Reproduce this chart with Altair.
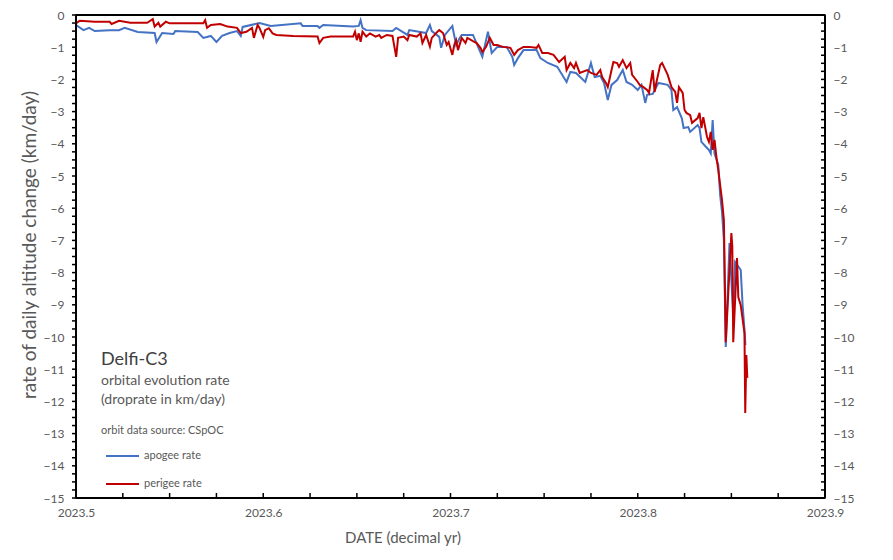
import altair as alt
import pandas as pd

# ---------------- data ----------------
apogee_x = [
    2023.500, 2023.504, 2023.507, 2023.510, 2023.518, 2023.523, 2023.526, 2023.533, 2023.542, 2023.543,
    2023.546, 2023.552, 2023.553, 2023.565, 2023.568, 2023.572, 2023.575, 2023.578, 2023.582, 2023.586,
    2023.588, 2023.589, 2023.598, 2023.604, 2023.620, 2023.621, 2023.629, 2023.630, 2023.632, 2023.648,
    2023.651, 2023.652, 2023.653, 2023.655, 2023.669, 2023.671, 2023.677, 2023.678, 2023.687, 2023.689,
    2023.690, 2023.694, 2023.695, 2023.697, 2023.701, 2023.703, 2023.705, 2023.706, 2023.712, 2023.717,
    2023.720, 2023.722, 2023.725, 2023.730, 2023.733, 2023.734, 2023.736, 2023.739, 2023.746, 2023.748,
    2023.752, 2023.757, 2023.762, 2023.764, 2023.767, 2023.772, 2023.775, 2023.777, 2023.780, 2023.782,
    2023.784, 2023.786, 2023.789, 2023.792, 2023.794, 2023.797, 2023.800, 2023.802, 2023.804, 2023.805,
    2023.808, 2023.811, 2023.816, 2023.818, 2023.819, 2023.821, 2023.8235, 2023.8245, 2023.827, 2023.828,
    2023.832, 2023.833, 2023.834, 2023.837, 2023.838, 2023.839, 2023.840, 2023.841, 2023.843, 2023.844,
    2023.845, 2023.846, 2023.847, 2023.849, 2023.851, 2023.852, 2023.855, 2023.856, 2023.857, 2023.8575,
]
apogee_rate = [
    -0.31, -0.47, -0.40, -0.50, -0.47, -0.47, -0.40, -0.53, -0.56, -0.84,
    -0.56, -0.59, -0.50, -0.53, -0.71, -0.65, -0.84, -0.65, -0.56, -0.50,
    -0.65, -0.37, -0.25, -0.34, -0.26, -0.34, -0.34, -0.40, -0.31, -0.36,
    -0.34, -0.16, -0.40, -0.47, -0.50, -0.40, -0.62, -0.47, -0.56, -0.31,
    -0.50, -0.68, -1.02, -0.62, -0.34, -0.93, -0.71, -0.62, -0.62, -1.30,
    -0.52, -1.18, -0.99, -0.99, -1.30, -1.55, -1.34, -1.09, -1.09, -1.34,
    -1.49, -1.61, -2.08, -1.77, -1.80, -2.08, -1.49, -1.93, -1.89, -2.11,
    -2.64, -2.17, -2.02, -1.71, -2.08, -2.17, -2.33, -2.17, -2.73, -2.48,
    -2.45, -2.11, -2.17, -2.33, -2.95, -2.86, -3.20, -3.51, -3.48, -3.63,
    -3.42, -3.51, -3.94, -4.13, -4.19, -4.30, -3.26, -4.30, -4.66, -5.59,
    -6.12, -6.99, -10.31, -7.08, -9.38, -7.67, -7.92, -9.01, -9.78, -10.25,
]

perigee_x = [
    2023.500, 2023.502, 2023.510, 2023.518, 2023.519, 2023.523, 2023.529, 2023.538, 2023.541, 2023.542,
    2023.544, 2023.545, 2023.548, 2023.550, 2023.568, 2023.569, 2023.570, 2023.572, 2023.577, 2023.581,
    2023.586, 2023.588, 2023.591, 2023.594, 2023.595, 2023.597, 2023.598, 2023.600, 2023.601, 2023.603,
    2023.605, 2023.607, 2023.616, 2023.629, 2023.630, 2023.632, 2023.636, 2023.648, 2023.649, 2023.650,
    2023.651, 2023.652, 2023.653, 2023.655, 2023.657, 2023.660, 2023.662, 2023.663, 2023.666, 2023.669,
    2023.671, 2023.672, 2023.675, 2023.677, 2023.678, 2023.682, 2023.684, 2023.685, 2023.687, 2023.689,
    2023.690, 2023.693, 2023.694, 2023.696, 2023.698, 2023.699, 2023.701, 2023.702, 2023.703, 2023.704,
    2023.706, 2023.708, 2023.709, 2023.712, 2023.714, 2023.716, 2023.717, 2023.719, 2023.721, 2023.723,
    2023.725, 2023.728, 2023.732, 2023.734, 2023.736, 2023.739, 2023.742, 2023.746, 2023.747, 2023.749,
    2023.752, 2023.755, 2023.758, 2023.761, 2023.762, 2023.764, 2023.766, 2023.767, 2023.769, 2023.773,
    2023.775, 2023.778, 2023.780, 2023.781, 2023.783, 2023.784, 2023.786, 2023.787, 2023.789, 2023.790,
    2023.792, 2023.794, 2023.796, 2023.797, 2023.800, 2023.801, 2023.803, 2023.805, 2023.806, 2023.808,
    2023.809, 2023.810, 2023.812, 2023.813, 2023.814, 2023.816, 2023.818, 2023.820, 2023.821, 2023.822,
    2023.824, 2023.825, 2023.826, 2023.828, 2023.829, 2023.832, 2023.833, 2023.834, 2023.835, 2023.837,
    2023.838, 2023.839, 2023.840, 2023.841, 2023.842, 2023.843, 2023.845, 2023.8455, 2023.846, 2023.847,
    2023.850, 2023.8505, 2023.851, 2023.853, 2023.8537, 2023.855, 2023.857, 2023.8574, 2023.858, 2023.8585,
]
perigee_rate = [
    -0.26, -0.18, -0.21, -0.21, -0.28, -0.18, -0.24, -0.24, -0.13, -0.36,
    -0.24, -0.36, -0.21, -0.26, -0.26, -0.16, -0.40, -0.31, -0.28, -0.36,
    -0.40, -0.56, -0.52, -0.40, -0.71, -0.31, -0.40, -0.68, -0.47, -0.41,
    -0.57, -0.62, -0.65, -0.67, -0.87, -0.71, -0.67, -0.67, -0.52, -0.78,
    -0.57, -0.83, -0.52, -0.67, -0.57, -0.67, -0.62, -0.71, -0.62, -0.65,
    -1.30, -0.71, -0.67, -0.78, -0.62, -0.67, -0.57, -0.87, -0.62, -0.98,
    -0.71, -0.52, -0.47, -0.56, -0.93, -0.84, -1.24, -0.93, -0.78, -1.09,
    -0.71, -0.87, -0.71, -0.81, -0.87, -1.02, -1.15, -0.99, -0.71, -0.93,
    -0.93, -0.99, -1.02, -1.24, -1.09, -0.99, -0.99, -1.02, -0.93, -1.18,
    -1.18, -1.24, -1.46, -1.30, -1.71, -1.49, -1.65, -1.49, -1.80, -1.71,
    -1.80, -1.86, -1.71, -1.93, -2.11, -2.24, -1.71, -1.46, -1.49, -1.61,
    -1.40, -1.65, -1.49, -1.86, -2.08, -2.17, -2.24, -2.33, -2.42, -1.71,
    -2.39, -2.08, -1.55, -1.49, -1.61, -1.86, -2.24, -2.39, -2.73, -2.24,
    -2.42, -2.95, -3.04, -3.11, -3.35, -3.20, -3.04, -3.51, -3.17, -3.79,
    -3.94, -3.63, -4.19, -3.88, -4.41, -4.81, -5.75, -6.06, -6.37, -10.16,
    -6.77, -7.20, -10.16, -7.55, -8.76, -9.01, -9.88, -12.36, -10.56, -11.27,
]

x_labels = [2023.5, 2023.6, 2023.7, 2023.8, 2023.9]
y_labels = list(range(0, -16, -1))
x_minor = [2023.5 + 0.025 * i for i in range(17)]
y_minor = [-0.25 * i for i in range(61)]

title_lines = ["Delfi-C3", "orbital evolution rate", "(droprate in km/day)", "orbit data source:  CSpOC"]
series_names = ["apogee rate", "perigee rate"]
series_colors = ["#4472C4", "#C00000"]

# ---------------- chart ----------------
W, H = 749, 483
FONT = "Lato"
GRAY = "#595959"
INK = "#000000"

apo = pd.DataFrame({"x": apogee_x, "y": apogee_rate, "i": range(len(apogee_x))})
per = pd.DataFrame({"x": perigee_x, "y": perigee_rate, "i": range(len(perigee_x))})

xscale = alt.Scale(domain=[2023.5, 2023.9], nice=False, zero=False)
yscale = alt.Scale(domain=[-15, 0], nice=False, zero=False)

x_axis = alt.Axis(values=x_labels, format=".1f", ticks=False, domain=False, grid=False,
                  title=None, labelPadding=9, labelFont=FONT, labelFontSize=12,
                  labelColor=GRAY, labelFlush=False)
y_axis_left = alt.Axis(values=y_labels, format="d", ticks=False, domain=False, grid=False,
                       title=None, labelPadding=12, labelFont=FONT, labelFontSize=12,
                       labelColor=GRAY, orient="left", labelFlush=False)
y_axis_right = alt.Axis(values=y_labels, format="d", ticks=False, domain=False, grid=False,
                        title=None, labelPadding=8, labelFont=FONT, labelFontSize=12,
                        labelColor=GRAY, orient="right", labelFlush=False)

apo_line = alt.Chart(apo).mark_line(color=series_colors[0], strokeWidth=2).encode(
    x=alt.X("x:Q", scale=xscale, axis=x_axis),
    y=alt.Y("y:Q", scale=yscale, axis=y_axis_left),
    order="i:Q",
)
per_line = alt.Chart(per).mark_line(color=series_colors[1], strokeWidth=2).encode(
    x=alt.X("x:Q", scale=xscale, axis=None),
    y=alt.Y("y:Q", scale=yscale, axis=y_axis_right),
    order="i:Q",
)

xt = pd.DataFrame({"v": x_minor})
yt = pd.DataFrame({"v": y_minor})
x_ticks = alt.Chart(xt).mark_rule(stroke=INK, strokeWidth=1.5, opacity=1).encode(
    x=alt.X("v:Q", scale=xscale, axis=None), y=alt.value(H), y2=alt.value(H - 5))
y_ticks_l = alt.Chart(yt).mark_rule(stroke=INK, strokeWidth=1.5, opacity=1).encode(
    y=alt.Y("v:Q", scale=yscale, axis=None), x=alt.value(0), x2=alt.value(-4))
y_ticks_r = alt.Chart(yt).mark_rule(stroke=INK, strokeWidth=1.5, opacity=1).encode(
    y=alt.Y("v:Q", scale=yscale, axis=None), x=alt.value(W), x2=alt.value(W - 4))

one = pd.DataFrame({"k": [0]})
FW = 2
frame = [
    alt.Chart(one).mark_rule(stroke=INK, strokeWidth=FW, opacity=1).encode(x=alt.value(0), x2=alt.value(W), y=alt.value(0)),
    alt.Chart(one).mark_rule(stroke=INK, strokeWidth=FW, opacity=1).encode(x=alt.value(0), x2=alt.value(W), y=alt.value(H)),
    alt.Chart(one).mark_rule(stroke=INK, strokeWidth=FW, opacity=1).encode(y=alt.value(0), y2=alt.value(H), x=alt.value(0)),
    alt.Chart(one).mark_rule(stroke=INK, strokeWidth=FW, opacity=1).encode(y=alt.value(0), y2=alt.value(H), x=alt.value(W)),
]

def label(txt, x, y, size, color=GRAY, angle=0, align="left"):
    return alt.Chart(pd.DataFrame({"t": [txt]})).mark_text(
        font=FONT, fontSize=size, color=color, align=align, baseline="alphabetic", angle=angle
    ).encode(text="t:N", x=alt.value(x), y=alt.value(y))

texts = [
    label(title_lines[0], 25, 350, 18, "#404040"),
    label(title_lines[1], 25, 370, 14),
    label(title_lines[2], 25, 389, 14),
    label(title_lines[3], 25, 419, 11),
    label(series_names[0], 68, 444, 11),
    label(series_names[1], 68, 472, 11),
    label("rate of daily altitude change  (km/day)", -40, 230, 19, angle=270, align="center"),
    label("DATE (decimal yr)", 327, 528, 15, align="center"),
]

leg_lines = [
    alt.Chart(one).mark_rule(strokeWidth=2, color=series_colors[0]).encode(
        x=alt.value(30), x2=alt.value(63), y=alt.value(441)),
    alt.Chart(one).mark_rule(strokeWidth=2, color=series_colors[1]).encode(
        x=alt.value(30), x2=alt.value(63), y=alt.value(469)),
]

chart = alt.layer(
    apo_line, per_line, x_ticks, y_ticks_l, y_ticks_r, *frame, *leg_lines, *texts
).resolve_axis(x="independent", y="independent").properties(
    width=W, height=H,
    autosize=alt.AutoSizeParams(type="none"),
    padding={"left": 76, "top": 15, "right": 893 - 76 - W, "bottom": 560 - 15 - H},
    background="white",
).configure_view(stroke=INK, strokeWidth=1.5)

chart.save("out.html", embed_options={"renderer": "svg", "actions": False})
